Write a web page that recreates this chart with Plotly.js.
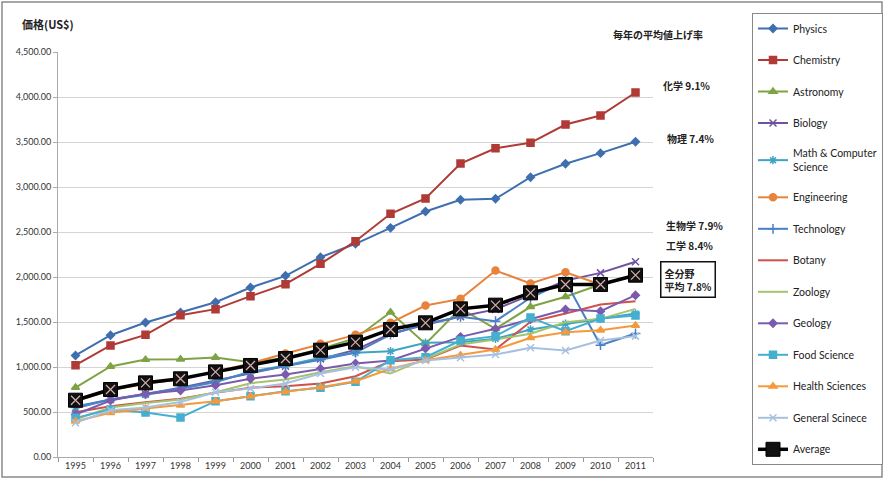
<!DOCTYPE html>
<html><head><meta charset="utf-8">
<script src="https://cdn.plot.ly/plotly-3.0.1.min.js"></script>
<style>html,body{margin:0;padding:0;background:#fff;}#chart{width:884px;height:479px;}</style>
</head><body><div id="chart"></div>
<script>
const years = ['1995','1996','1997','1998','1999','2000','2001','2002','2003','2004','2005','2006','2007','2008','2009','2010','2011'];
const physics     = [1128,1353,1494,1606,1720,1883,2013,2220,2369,2546,2728,2858,2869,3109,3258,3376,3502];
const chemistry   = [1020,1239,1357,1576,1643,1787,1920,2146,2398,2702,2872,3261,3431,3491,3694,3794,4050];
const astronomy   = [772,1006,1082,1086,1105,1054,1100,1200,1320,1609,1257,1650,1424,1669,1780,1917,null];
const biology     = [540,640,700,770,850,930,1010,1090,1190,1370,1470,1560,1640,1800,1960,2046,2169];
const mathcs      = [550,640,690,760,830,950,1017,1102,1157,1176,1269,1276,1313,1417,1480,1535,1594];
const engineering = [615,745,815,865,950,1040,1150,1257,1357,1491,1683,1757,2072,1928,2053,1917,null];
const technology  = [560,640,700,760,840,940,1010,1080,1160,1360,1480,1558,1509,1769,1953,1242,1372];
const botany      = [498,565,609,646,713,770,787,817,898,1065,1083,1239,1194,1502,1594,1694,1731];
const zoology     = [420,550,600,640,720,820,861,942,1009,927,1090,1250,1306,1370,1498,1535,1646];
const geology     = [472,628,702,739,798,869,917,980,1039,1072,1205,1335,1424,1530,1639,1620,1798];
const food        = [435,528,494,439,620,676,731,769,835,1076,1109,1294,1343,1550,1398,1539,1572];
const health      = [398,491,539,576,620,676,724,776,842,980,1076,1131,1194,1324,1387,1409,1461];
const general     = [380,520,550,610,720,760,817,928,998,972,1072,1102,1139,1213,1183,1294,1343];
const average     = [631,750,824,869,946,1017,1094,1187,1276,1417,1491,1646,1687,1824,1917,1917,2020];

const seriesNames = ['Physics','Chemistry','Astronomy','Biology','Math & Computer<br>Science','Engineering','Technology','Botany','Zoology','Geology','Food Science','Health Sciences','General Scinece'];
const seriesData = [physics,chemistry,astronomy,biology,mathcs,engineering,technology,botany,zoology,geology,food,health,general];
const styles = [
  {c:'#3F6FAF', s:'diamond', z:6},
  {c:'#B03A36', s:'square', z:7},
  {c:'#7FA344', s:'triangle-up', z:7},
  {c:'#6F52A0', s:'x-thin-open', z:7},
  {c:'#3FA4C4', s:'asterisk-open', z:7},
  {c:'#E8833A', s:'circle', z:7},
  {c:'#4A80C4', s:'cross-thin-open', z:7},
  {c:'#D0504A', s:null},
  {c:'#A3C46A', s:null},
  {c:'#7A5BAE', s:'diamond', z:6},
  {c:'#45AFCF', s:'square', z:7},
  {c:'#F59A3C', s:'triangle-up', z:7},
  {c:'#A8C0E0', s:'x-thin-open', z:7}
];
const traces = seriesData.map((d,i)=>{
  const st = styles[i];
  const t = {x:years, y:d, name:seriesNames[i], type:'scatter', legendgroup:'g'+i,
    line:{color:st.c, width:2}, mode: st.s ? 'lines+markers' : 'lines'};
  if (st.s) t.marker = {symbol:st.s, size:st.z, color:st.c, line:{color:st.c, width:1.5}};
  return t;
});
traces.push({x:years, y:average, name:'Average', type:'scatter', mode:'lines+markers', legendgroup:'gavg',
  line:{color:'#000', width:3.5}, marker:{symbol:'square', size:14, color:'#111', line:{color:'#000',width:1}}});
traces.push({x:years, y:average, name:'Average', type:'scatter', mode:'markers', showlegend:false, hoverinfo:'skip', legendgroup:'gavg',
  marker:{symbol:'x-thin-open', size:9, color:'#D8B0B0', line:{color:'#D8B0B0', width:1.2}}});

const L=58, R=653, T=52, B=457;
const px = X => (X-L)/(R-L);
const py = Y => (B-Y)/(B-T);
const jp = '"Noto Sans CJK JP", sans-serif';
const ann = (X,Y,text,opts={}) => Object.assign({xref:'paper', yref:'paper', x:px(X), y:py(Y), text:text, showarrow:false,
  xanchor:'center', yanchor:'middle',
  font:{family:jp, size:10, color:'#222', weight:'bold'}}, opts);

const layout = {
  width:884, height:479,
  margin:{l:L, r:884-R, t:T, b:479-B},
  paper_bgcolor:'#fff', plot_bgcolor:'#fff',
  font:{family:'Lato, "Liberation Sans", sans-serif', size:9, color:'#333'},
  xaxis:{type:'category', range:[-0.5,16.5], tickson:'boundaries', ticks:'outside', ticklen:4, tickcolor:'#999',
    showline:true, linecolor:'#aaa', showgrid:false, tickfont:{size:9, color:'#333'}, fixedrange:true},
  yaxis:{range:[0,4500], dtick:500, tickformat:',.2f', ticks:'outside', ticklen:4, tickcolor:'#aaa',
    showline:true, linecolor:'#aaa', gridcolor:'#d4d4d4', gridwidth:1, zeroline:false, tickfont:{size:9, color:'#333'}, fixedrange:true},
  legend:{xref:'container', yref:'container', x:752/884, y:1-13/479, xanchor:'left', yanchor:'top',
    bordercolor:'#888', borderwidth:1, bgcolor:'#fff', tracegroupgap:12.5, maxheight:470,
    font:{family:'Lato, "Open Sans", sans-serif', size:10.5, color:'#222'}, itemwidth:30},
  showlegend:true,
  shapes:[{type:'rect', xref:'paper', yref:'paper', x0:px(2), x1:px(882), y0:py(477), y1:py(2), line:{color:'#8a8a8a', width:1.5}, fillcolor:'rgba(0,0,0,0)', layer:'below'}],
  annotations:[
    ann(20,24,'価格(US$)',{xanchor:'left', font:{family:jp, size:11, color:'#222', weight:'bold'}}),
    ann(658,35,'毎年の平均値上げ率'),
    ann(686,85,'化学 9.1%'),
    ann(690,138,'物理 7.4%'),
    ann(694,226,'生物学 7.9%'),
    ann(689,246,'工学 8.4%'),
    ann(660,279,'全分野<br>平均 7.8%',{xanchor:'left', align:'left', bordercolor:'#111', borderwidth:1.5, borderpad:3, bgcolor:'#fff'})
  ]
};
Plotly.newPlot('chart', traces, layout, {displayModeBar:false, staticPlot:true});
</script></body></html>
